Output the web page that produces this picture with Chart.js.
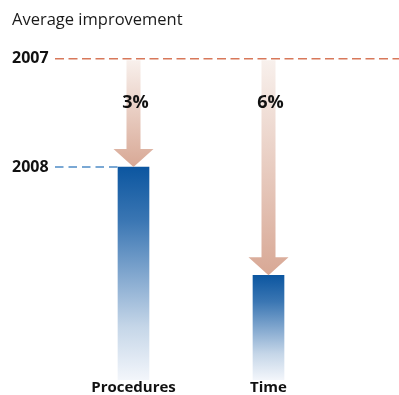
<!DOCTYPE html>
<html>
<head>
<meta charset="utf-8">
<script src="https://cdn.jsdelivr.net/npm/chart.js@4"></script>
<style>
  body { margin: 0; background: #fff; }
  #wrap { width: 399px; height: 395px; }
</style>
</head>
<body>
<div id="wrap"><canvas id="myChart"></canvas></div>
<script>
const categories = ['Procedures', 'Time'];
const baseline2007 = [100, 100];
const values2008 = [97, 94];
const changeLabels = ['3%', '6%'];
const tickValues = [100, 97];
const tickLabels = ['2007', '2008'];

const FONT = '"Open Sans", sans-serif';

// dashed reference lines, arrows and % labels
const annotate = {
  id: 'annotate',
  afterDatasetsDraw(chart) {
    const { ctx, chartArea, scales: { y } } = chart;
    const meta = chart.getDatasetMeta(0);
    const top = y.getPixelForValue(baseline2007[0]);
    const startX = chartArea.left - 11;

    ctx.save();
    ctx.lineWidth = 1.5;
    ctx.setLineDash([9, 4.5]);
    ctx.strokeStyle = '#d8785a';
    ctx.beginPath();
    ctx.moveTo(startX, top);
    ctx.lineTo(chart.width, top);
    ctx.stroke();

    const bar0 = meta.data[0];
    const y08 = y.getPixelForValue(values2008[0]);
    ctx.strokeStyle = '#4f8cc6';
    ctx.setLineDash([8.5, 5]);
    ctx.beginPath();
    ctx.moveTo(startX, y08);
    ctx.lineTo(bar0.x - bar0.width / 2, y08);
    ctx.stroke();
    ctx.setLineDash([]);

    meta.data.forEach((bar, i) => {
      const y0 = y.getPixelForValue(baseline2007[i]) + 1.5;
      const tip = y.getPixelForValue(values2008[i]);
      const sw = 7, hw = 20, hh = 18;
      const g = ctx.createLinearGradient(0, y0, 0, tip);
      g.addColorStop(0, '#f8f0ec');
      g.addColorStop(1, '#d8a895');
      ctx.fillStyle = g;
      ctx.beginPath();
      ctx.moveTo(bar.x - sw, y0);
      ctx.lineTo(bar.x + sw, y0);
      ctx.lineTo(bar.x + sw, tip - hh);
      ctx.lineTo(bar.x + hw, tip - hh);
      ctx.lineTo(bar.x, tip);
      ctx.lineTo(bar.x - hw, tip - hh);
      ctx.lineTo(bar.x - sw, tip - hh);
      ctx.closePath();
      ctx.fill();

      ctx.fillStyle = '#111';
      ctx.font = 'bold 18px ' + FONT;
      ctx.textAlign = 'center';
      ctx.textBaseline = 'middle';
      ctx.fillText(changeLabels[i], bar.x + 2, top + 44);
    });
    ctx.restore();
  }
};

const data = {
  labels: categories,
  datasets: [{
    data: values2008,
    barThickness: 31,
    borderWidth: 0,
    backgroundColor(c) {
      const chart = c.chart;
      const area = chart.chartArea;
      if (!area || c.type !== 'data') return '#0c56a0';
      const t = chart.scales.y.getPixelForValue(c.raw);
      const g = chart.ctx.createLinearGradient(0, t, 0, area.bottom);
      g.addColorStop(0, '#0c56a0');
      g.addColorStop(0.25, '#3a76b3');
      g.addColorStop(0.5, '#80a6ce');
      g.addColorStop(0.75, '#c5d6e8');
      g.addColorStop(1, '#f3f6fb');
      return g;
    }
  }]
};

const config = {
  type: 'bar',
  data: data,
  plugins: [annotate],
  options: {
    responsive: true,
    maintainAspectRatio: false,
    animation: false,
    layout: { padding: { left: 12, right: 63, top: 0, bottom: 0 } },
    plugins: {
      legend: { display: false },
      tooltip: { enabled: false },
      title: {
        display: true,
        text: 'Average improvement',
        align: 'start',
        color: '#1a1a1a',
        font: { family: FONT, size: 16.5, weight: 'normal', lineHeight: 1.2 },
        padding: { top: 10, bottom: 29 }
      }
    },
    scales: {
      x: {
        grid: { display: false, drawTicks: false },
        border: { display: false },
        ticks: {
          color: '#111',
          padding: 0,
          font: { family: FONT, size: 15, weight: 'bold', lineHeight: 1 }
        }
      },
      y: {
        min: 91.1,
        max: 100,
        grid: { display: false, drawTicks: false },
        border: { display: false },
        afterBuildTicks(scale) {
          scale.ticks = tickValues.map(v => ({ value: v }));
        },
        afterFit(scale) {
          scale.width = 54;
        },
        ticks: {
          crossAlign: 'far',
          color: '#111',
          font: { family: FONT, size: 16, weight: 'bold' },
          callback(value) {
            const i = tickValues.indexOf(value);
            return i >= 0 ? tickLabels[i] : '';
          }
        }
      }
    }
  }
};

const myChart = new Chart(
  document.getElementById('myChart'),
  config
);
</script>
</body>
</html>
